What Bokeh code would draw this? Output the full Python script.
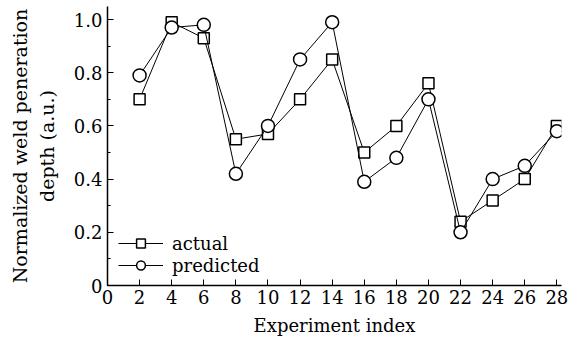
from bokeh.plotting import figure
from bokeh.models import SingleIntervalTicker, FixedTicker, Legend, LegendItem
from bokeh.embed import file_html
from bokeh.resources import INLINE

experiment = [2, 4, 6, 8, 10, 12, 14, 16, 18, 20, 22, 24, 26, 28]
actual = [0.70, 0.99, 0.93, 0.55, 0.57, 0.70, 0.85, 0.50, 0.60, 0.76, 0.24, 0.32, 0.40, 0.60]
predicted = [0.79, 0.97, 0.98, 0.42, 0.60, 0.85, 0.99, 0.39, 0.48, 0.70, 0.20, 0.40, 0.45, 0.58]
x_ticks = list(range(0, 29, 2))
y_ticks = [0, 0.2, 0.4, 0.6, 0.8, 1.0]
y_tick_labels = ["0", "0.2", "0.4", "0.6", "0.8", "1.0"]

FONT = "DejaVu Serif"

p = figure(width=582, height=338, x_range=(0, 28.29), y_range=(0, 1.049),
           output_backend="svg", toolbar_location=None,
           min_border_left=107, min_border_right=21, min_border_top=6, min_border_bottom=53)
p.outline_line_color = None
p.xgrid.visible = False
p.ygrid.visible = False
p.background_fill_color = "white"
p.border_fill_color = "white"

l1 = p.line(experiment, actual, line_color="black", line_width=1)
s1 = p.scatter(experiment, actual, marker="square", size=11, fill_color="white",
               line_color="black", line_width=1.5)
l2 = p.line(experiment, predicted, line_color="black", line_width=1)
s2 = p.scatter(experiment, predicted, marker="circle", size=13, fill_color="white",
               line_color="black", line_width=1.5)

legend = Legend(items=[LegendItem(label="actual", renderers=[l1, s1]),
                       LegendItem(label="predicted", renderers=[l2, s2])],
                location=(11, 9), border_line_color=None, background_fill_alpha=0,
                padding=0, margin=0, spacing=0, glyph_width=45, glyph_height=22,
                label_height=22, label_standoff=9,
                label_text_font=FONT, label_text_font_size="18px", label_text_color="black")
p.add_layout(legend, "center")

xa = p.xaxis[0]
xa.ticker = FixedTicker(ticks=x_ticks)
xa.axis_label = "Experiment index"
ya = p.yaxis[0]
ya.ticker = SingleIntervalTicker(interval=0.2, num_minor_ticks=2)
ya.major_label_overrides = {t: l for t, l in zip(y_ticks, y_tick_labels)}
ya.axis_label = "Normalized weld peneration\ndepth (a.u.)"

for ax in (xa, ya):
    ax.axis_line_color = "black"
    ax.axis_line_width = 1.5
    ax.major_tick_line_color = "black"
    ax.major_tick_in = 6
    ax.major_tick_out = 0
    ax.minor_tick_in = 3
    ax.minor_tick_out = 0
    ax.major_label_text_font = FONT
    ax.major_label_text_font_size = "18px"
    ax.major_label_text_color = "black"
    ax.axis_label_text_font = FONT
    ax.axis_label_text_font_size = "18px"
    ax.axis_label_text_font_style = "normal"
    ax.axis_label_text_color = "black"
ya.axis_label_text_font_size = "19px"
xa.minor_tick_line_color = None
xa.major_label_standoff = 4
xa.axis_label_standoff = 8
ya.major_label_standoff = 5
ya.axis_label_standoff = 13

open("out.html", "w").write(file_html(p, INLINE))
